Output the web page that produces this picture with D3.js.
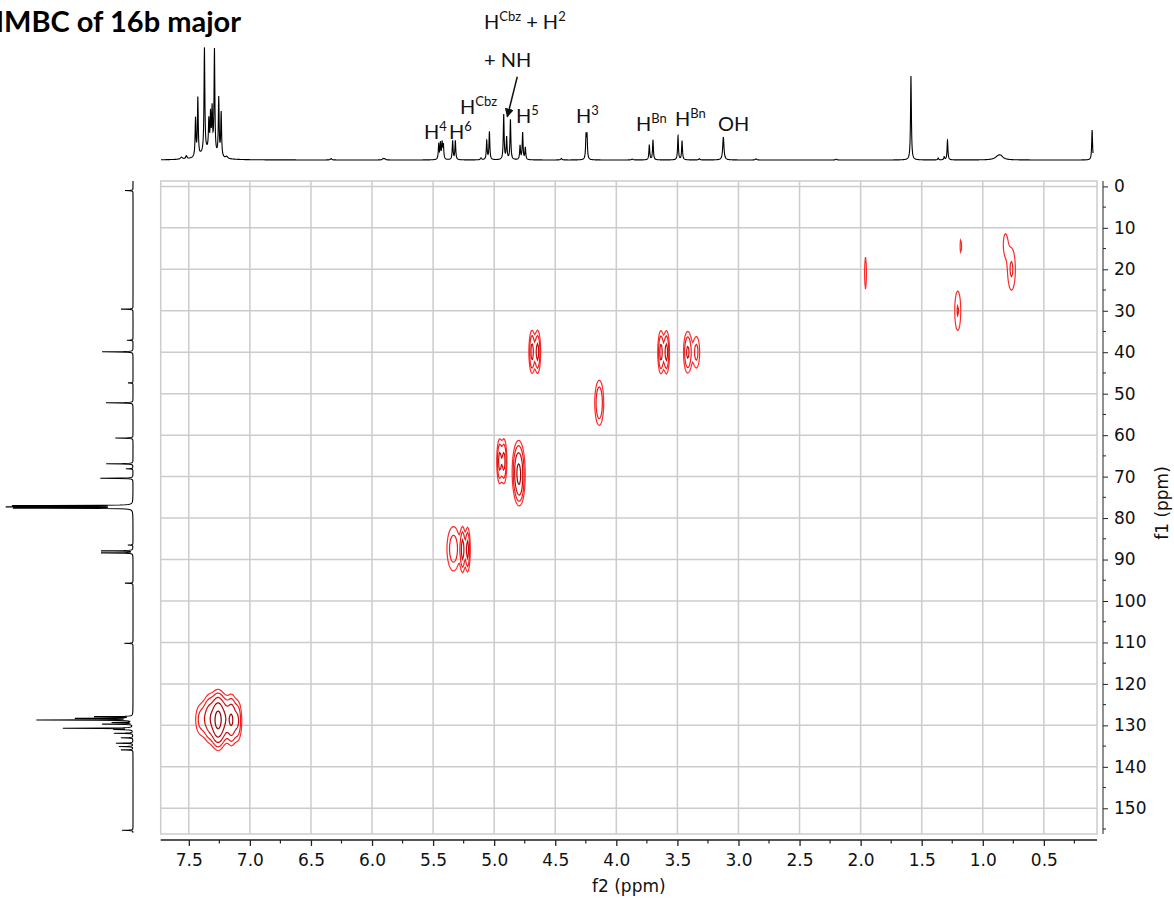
<!DOCTYPE html>
<html><head><meta charset="utf-8">
<script src="https://cdn.jsdelivr.net/npm/d3@7"></script>
<style>body{margin:0;background:#fff}svg{display:block}</style>
</head><body>
<svg id="c" width="1174" height="899"></svg>
<script>
// ---------------- data ----------------
const titleText = "HMBC of 16b major";
const f2Label = "f2 (ppm)";
const f1Label = "f1 (ppm)";
const f2Ticks = [7.5, 7.0, 6.5, 6.0, 5.5, 5.0, 4.5, 4.0, 3.5, 3.0, 2.5, 2.0, 1.5, 1.0, 0.5];
const f2TickLabels = ["7.5","7.0","6.5","6.0","5.5","5.0","4.5","4.0","3.5","3.0","2.5","2.0","1.5","1.0","0.5"];
const f1Ticks = [0, 10, 20, 30, 40, 50, 60, 70, 80, 90, 100, 110, 120, 130, 140, 150];
const contourLevels = [1, 2, 4, 8, 16];

// cross peaks: [f2 ppm, f1 ppm, amplitude (contour units), f2 sigma ppm, f1 sigma ppm]
const crossPeaks = [
  // aromatic
  [7.26, 128.7, 20, 0.030, 3.0],
  [7.33, 128.3, 6, 0.030, 3.0],
  [7.40, 128.6, 2.5, 0.032, 2.6],
  [7.20, 128.4, 5, 0.025, 2.8],
  [7.15, 128.7, 8, 0.022, 3.0],
  [7.10, 128.9, 4, 0.020, 2.8],
  // 88 ppm
  [5.333, 87.4, 3, 0.036, 3.6],
  [5.258, 87.6, 5, 0.012, 3.0],
  [5.218, 87.6, 5, 0.012, 3.0],
  // 66-70 ppm
  [4.955, 66.3, 5, 0.013, 3.0],
  [4.920, 66.3, 5, 0.013, 3.0],
  [4.800, 68.8, 9, 0.025, 3.6],
  [4.790, 72.5, 2, 0.020, 2.5],
  // 40 ppm
  [4.690, 39.9, 5, 0.014, 2.9],
  [4.645, 39.9, 5, 0.014, 2.9],
  [3.635, 40.0, 5, 0.014, 2.9],
  [3.590, 40.0, 5, 0.014, 2.9],
  [3.415, 40.0, 4.5, 0.020, 2.9],
  [3.345, 40.0, 2.5, 0.020, 2.8],
  // 52 ppm
  [4.140, 52.2, 3.9, 0.022, 3.3],
  // aliphatic
  [1.960, 20.9, 1.6, 0.008, 4.0],
  [1.180, 14.4, 1.15, 0.012, 2.9],
  [1.205, 30.0, 2.1, 0.020, 3.9],
  [0.765, 20.0, 2.2, 0.025, 4.0],
  [0.815, 14.0, 1.4, 0.020, 3.0]
];

// 1H projection: [ppm, height px, half width ppm]
const protonPeaks = [
  [7.45, 2, 0.01], [7.41, 3, 0.006],
  [7.335, 38, 0.004], [7.316, 58, 0.004], [7.262, 104, 0.004], [7.226, 30, 0.004],
  [7.212, 36, 0.004], [7.199, 42, 0.004], [7.180, 104, 0.004], [7.145, 58, 0.004],
  [7.125, 44, 0.004], [7.24, 8, 0.06], [7.08, 2, 0.01],
  [6.225, 1.5, 0.006], [5.80, 1.5, 0.006], [5.785, 1.2, 0.006],
  [5.344, 15, 0.004], [5.330, 16, 0.004], [5.316, 16, 0.004], [5.306, 14, 0.004],
  [5.230, 19, 0.004], [5.208, 19, 0.004],
  [4.998, 2, 0.005],
  [4.951, 19, 0.004], [4.929, 28, 0.004],
  [4.812, 45, 0.004], [4.788, 22, 0.004], [4.757, 40, 0.004],
  [4.678, 14, 0.004], [4.657, 27, 0.004], [4.635, 12, 0.004],
  [4.34, 1.5, 0.006], [4.138, 23, 0.004], [4.130, 23, 0.004],
  [3.76, 0.8, 0.008],
  [3.620, 15, 0.004], [3.590, 20, 0.004],
  [3.385, 24, 0.004], [3.352, 19, 0.004],
  [3.21, 1.2, 0.006],
  [3.014, 23, 0.006],
  [2.747, 1.2, 0.006],
  [2.09, 0.8, 0.006],
  [1.478, 84, 0.004],
  [1.255, 2, 0.004], [1.206, 3, 0.004], [1.179, 20, 0.004],
  [0.761, 4, 0.03], [0.74, 2, 0.02],
  [-0.005, 30, 0.004]
];

// 13C projection: [ppm, length px, half width ppm]
const carbonPeaks = [
  [1.0, 8, 0.05], [29.6, 12, 0.05], [37.1, 6, 0.05], [39.9, 31, 0.05], [47.4, 5, 0.05],
  [52.2, 27, 0.05], [60.7, 17.7, 0.05], [66.9, 26.7, 0.05], [68.1, 7, 0.05], [70.4, 32.7, 0.05],
  [77.0, 117, 0.05], [77.3, 121, 0.05], [77.6, 116, 0.05],
  [86.5, 5, 0.05], [87.9, 31.7, 0.05], [88.4, 31.7, 0.05], [95.7, 8, 0.05], [110.2, 8.7, 0.05],
  [127.9, 37.7, 0.05], [128.3, 56, 0.05], [128.7, 95.4, 0.05], [129.3, 20, 0.05], [129.7, 30, 0.05],
  [130.7, 69.4, 0.05], [131.0, 17.7, 0.05], [131.9, 18, 0.05], [133.0, 12, 0.05], [134.3, 17, 0.05],
  [135.1, 14, 0.05], [135.9, 12, 0.05], [155.3, 11, 0.05]
];

// annotation texts: list of [text, isSuperscript]
const annotations = [
  [["H",0],["4",1]],
  [["H",0],["6",1]],
  [["H",0],["Cbz",1]],
  [["H",0],["5",1]],
  [["H",0],["3",1]],
  [["H",0],["Bn",1]],
  [["H",0],["Bn",1]],
  [["OH",0]],
  [["H",0],["Cbz",1],[" + H",0],["2",1]],
  [["+ NH",0]]
];

// ---------------- layout ----------------
const svg = d3.select("#c");
const L = 160.7, R = 1097, T = 181, B = 834;
const x = d3.scaleLinear().domain([7.73, 0.065]).range([L, R]);
const y = d3.scaleLinear().domain([-1.3, 156.2]).range([T, B]);
const xTop = d3.scaleLinear().domain([7.73 - 0.11, 0.065 - 0.11]).range([L, R]);
const gridColor = "#cccccc";

// grid
const g = svg.append("g");
g.selectAll("line.v").data(f2Ticks).join("line")
  .attr("x1", d => x(d)).attr("x2", d => x(d)).attr("y1", T).attr("y2", B)
  .attr("stroke", gridColor).attr("stroke-width", 1.5);
g.selectAll("line.h").data(f1Ticks).join("line")
  .attr("y1", d => y(d)).attr("y2", d => y(d)).attr("x1", L).attr("x2", R)
  .attr("stroke", gridColor).attr("stroke-width", 1.5);
g.append("rect").attr("x", L).attr("y", T).attr("width", R - L).attr("height", B - T)
  .attr("fill", "none").attr("stroke", gridColor).attr("stroke-width", 1.5);

// bottom axis
const xAxis = d3.axisBottom(x).tickValues(f2Ticks).tickFormat((d, i) => f2TickLabels[i]).tickSize(6).tickSizeOuter(0).tickPadding(8);
const ax = svg.append("g").attr("transform", `translate(0,840)`).call(xAxis);
ax.select(".domain").attr("stroke", "#555").attr("stroke-width", 2).attr("d", `M${L},0H${R}`);
ax.selectAll(".tick line").attr("stroke", "#222").attr("stroke-width", 1.3);
ax.selectAll("text").attr("font-family", "DejaVu Sans, Verdana, sans-serif").attr("font-size", 17).attr("fill", "#111");
const minorX = d3.range(7.75, 0.0, -0.25).filter(v => Math.abs(v * 2 - Math.round(v * 2)) > 0.01 && x(v) >= L && x(v) <= R);
svg.append("g").selectAll("line").data(minorX).join("line")
  .attr("x1", d => x(d)).attr("x2", d => x(d)).attr("y1", 840).attr("y2", 843.5)
  .attr("stroke", "#222").attr("stroke-width", 1.2);
svg.append("text").attr("x", (L + R) / 2).attr("y", 892).attr("text-anchor", "middle")
  .attr("font-family", "DejaVu Sans, Verdana, sans-serif").attr("font-size", 17).attr("fill", "#111").text(f2Label);

// right axis
const yAxis = d3.axisRight(y).tickValues(f1Ticks).tickSize(5).tickSizeOuter(0).tickPadding(6);
const ay = svg.append("g").attr("transform", `translate(1103,0)`).call(yAxis);
ay.select(".domain").attr("stroke", "#222").attr("stroke-width", 1).attr("d", `M0,${T}V${B}`);
ay.selectAll(".tick line").attr("stroke", "#222");
ay.selectAll("text").attr("font-family", "DejaVu Sans, Verdana, sans-serif").attr("font-size", 17).attr("fill", "#111");
const minorY = d3.range(5, 156, 10);
svg.append("g").selectAll("line").data(minorY).join("line")
  .attr("x1", 1103).attr("x2", 1106).attr("y1", d => y(d)).attr("y2", d => y(d))
  .attr("stroke", "#222").attr("stroke-width", 1);
svg.append("text").attr("transform", `translate(1168,503) rotate(-90)`).attr("text-anchor", "middle")
  .attr("font-family", "DejaVu Sans, Verdana, sans-serif").attr("font-size", 17).attr("fill", "#111").text(f1Label);

// contours
const gx0 = Math.floor(L), gy0 = Math.floor(T), gw = Math.ceil(R - L), gh = Math.ceil(B - T);
const vals = new Float64Array(gw * gh);
for (const [f2, f1, A, sx, sy] of crossPeaks) {
  const cx = x(f2), cy = y(f1);
  const spx = Math.abs(x(f2 + sx) - cx), spy = Math.abs(y(f1 + sy) - cy);
  const i0 = Math.max(0, Math.floor(cx - 5 * spx - gx0)), i1 = Math.min(gw - 1, Math.ceil(cx + 5 * spx - gx0));
  const j0 = Math.max(0, Math.floor(cy - 5 * spy - gy0)), j1 = Math.min(gh - 1, Math.ceil(cy + 5 * spy - gy0));
  for (let j = j0; j <= j1; j++) {
    const dy = (gy0 + j + 0.5 - cy) / spy;
    for (let i = i0; i <= i1; i++) {
      const dx = (gx0 + i + 0.5 - cx) / spx;
      vals[j * gw + i] += A * Math.exp(-0.5 * (dx * dx + dy * dy));
    }
  }
}
const cont = d3.contours().size([gw, gh]).thresholds(contourLevels)(vals);
const proj = d3.geoTransform({ point(px, py) { this.stream.point(px + gx0, py + gy0); } });
const cpath = d3.geoPath(proj);
const levelColor = d3.scaleOrdinal().domain(contourLevels).range(["#ff2a2a", "#ee1a1a", "#cc0a0a", "#aa0000", "#880000"]);
svg.append("g").selectAll("path").data(cont).join("path")
  .attr("d", cpath).attr("fill", "none").attr("stroke", d => levelColor(d.value)).attr("stroke-width", 1.2);

// top 1H trace
const topBase = 160;
function lor(arr, v) {
  let s = 0;
  for (const [p, h, w] of arr) { const d = v - p; s += h * w * w / (d * d + w * w); }
  return s;
}
let topX = d3.range(161, 1093, 0.25);
protonPeaks.forEach(p => { const px = xTop(p[0]); if (px >= 161 && px <= 1093) topX.push(px); });
topX.push(1093);
topX.sort((a, b) => a - b);
const topPts = topX.map(px => [px, topBase - lor(protonPeaks, xTop.invert(px))]);
svg.append("path").attr("d", d3.line()(topPts)).attr("fill", "none").attr("stroke", "#000").attr("stroke-width", 1.1);

// left 13C trace
const leftBase = 133;
let leftY = d3.range(181, 833, 0.25);
carbonPeaks.forEach(p => { const py = y(p[0]); if (py >= 181 && py <= 833) leftY.push(py); });
leftY.sort((a, b) => a - b);
const leftPts = leftY.map(py => [leftBase - lor(carbonPeaks, y.invert(py)), py]);
svg.append("path").attr("d", d3.line()(leftPts)).attr("fill", "none").attr("stroke", "#000").attr("stroke-width", 1.1);

// annotations
const annPos = [[424, 139], [449, 139], [460, 114], [516, 123], [576, 123], [636, 131], [675, 126], [718, 131], [484, 29], [484, 67]];
annotations.forEach((parts, k) => {
  const t = svg.append("text").attr("x", annPos[k][0]).attr("y", annPos[k][1])
    .attr("font-family", "Lato, 'Open Sans', sans-serif").attr("font-size", 20).attr("fill", "#111");
  let raised = false;
  parts.forEach(([s, sup]) => {
    const ts = t.append("tspan").text(s);
    if (sup && !raised) { ts.attr("font-size", 13).attr("dy", -8); raised = true; }
    else if (!sup && raised) { ts.attr("dy", 8); raised = false; }
    else if (sup) ts.attr("font-size", 13);
  });
});
// arrow
svg.append("defs").append("marker").attr("id", "ah").attr("viewBox", "0 0 10 10").attr("refX", 9).attr("refY", 5)
  .attr("markerWidth", 9).attr("markerHeight", 9).attr("markerUnits", "userSpaceOnUse").attr("orient", "auto")
  .append("path").attr("d", "M0,0L10,5L0,10Z").attr("fill", "#111");
svg.append("line").attr("x1", 517.3).attr("y1", 76.7).attr("x2", 507.3).attr("y2", 116.7)
  .attr("stroke", "#111").attr("stroke-width", 1.5).attr("marker-end", "url(#ah)");

// title (left edge clipped as in the source figure)
svg.append("text").attr("x", 241).attr("y", 32).attr("text-anchor", "end")
  .attr("font-family", "Lato, 'Open Sans', sans-serif").attr("font-weight", "bold").attr("font-size", 29)
  .attr("fill", "#000").text(titleText);
</script>
</body></html>
